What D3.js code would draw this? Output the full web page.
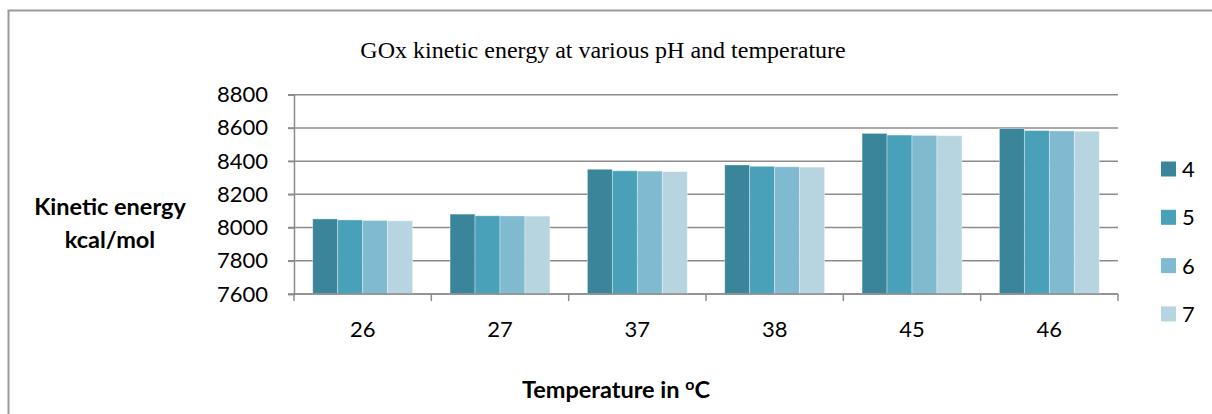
<!DOCTYPE html>
<html>
<head>
<meta charset="utf-8">
<script src="https://cdn.jsdelivr.net/npm/d3@7"></script>
<style>
  html, body { margin: 0; padding: 0; background: #fff; }
  svg { display: block; }
</style>
</head>
<body>
<svg id="chart" width="1212" height="414"></svg>
<script>
// Temperature groups (°C) and pH series
const temperatures = ["26", "27", "37", "38", "45", "46"];
const phSeries = ["4", "5", "6", "7"];

// Kinetic energy (kcal/mol) per pH series, one value per temperature
const ph4 = [8052, 8081, 8351, 8377, 8567, 8596];
const ph5 = [8046, 8071, 8342, 8369, 8557, 8584];
const ph6 = [8043, 8070, 8340, 8366, 8555, 8582];
const ph7 = [8041, 8069, 8337, 8364, 8553, 8580];
const seriesValues = [ph4, ph5, ph6, ph7];

const yTicks = [7600, 7800, 8000, 8200, 8400, 8600, 8800];
const seriesColors = ["#3a8599", "#48a1b9", "#7fbad0", "#b7d5e1"];

const svg = d3.select("#chart");
const gridColor = "#8c8c8c";
const labelFont = "Lato, 'Open Sans', sans-serif";

// Outer chart frame (left and top edges visible)
svg.append("path")
  .attr("d", "M8.5,414 L8.5,10.5 L1212,10.5")
  .attr("fill", "none")
  .attr("stroke", "#9a9a9a")
  .attr("stroke-width", 2);

const plot = { left: 294, right: 1118, top: 94.7, bottom: 294 };

const x0 = d3.scaleBand()
  .domain(temperatures)
  .range([plot.left, plot.right])
  .paddingInner(0)
  .paddingOuter(0);

// Gap between groups is ~150% of one bar width
const groupInner = d3.scaleBand()
  .domain(phSeries)
  .range([0, x0.bandwidth()])
  .paddingInner(0)
  .paddingOuter(0.75);

const y = d3.scaleLinear()
  .domain([7600, 8800])
  .range([plot.bottom, plot.top]);

// Horizontal gridlines
svg.append("g")
  .selectAll("line")
  .data(yTicks)
  .join("line")
  .attr("x1", plot.left - 6)
  .attr("x2", plot.right)
  .attr("y1", d => y(d))
  .attr("y2", d => y(d))
  .attr("stroke", gridColor)
  .attr("stroke-width", 1.5);

// Bars
const groups = svg.append("g")
  .selectAll("g")
  .data(temperatures)
  .join("g")
  .attr("transform", d => `translate(${x0(d)},0)`);

groups.selectAll("rect")
  .data((t, i) => phSeries.map((p, s) => ({ series: p, s, value: seriesValues[s][i] })))
  .join("rect")
  .attr("x", d => groupInner(d.series))
  .attr("width", groupInner.bandwidth())
  .attr("y", d => y(d.value))
  .attr("height", d => y(7600) - y(d.value))
  .attr("fill", d => seriesColors[d.s])
  .attr("stroke", "rgba(255,255,255,0.45)")
  .attr("stroke-width", 0.8);

// Y axis
const yAxis = d3.axisLeft(y)
  .tickValues(yTicks)
  .tickSize(6)
  .tickPadding(20)
  .tickFormat(d3.format("d"));

const yg = svg.append("g")
  .attr("transform", `translate(${plot.left},0)`)
  .call(yAxis);
yg.select(".domain").attr("stroke", gridColor).attr("stroke-width", 1.5);
yg.selectAll(".tick line").attr("stroke", gridColor).attr("stroke-width", 1.5);
yg.selectAll(".tick text")
  .attr("font-family", labelFont)
  .attr("font-size", 22)
  .attr("fill", "#000");

// X axis with tick marks at category boundaries
const xAxisG = svg.append("g")
  .attr("transform", `translate(0,${plot.bottom})`);
xAxisG.append("line")
  .attr("x1", plot.left).attr("x2", plot.right)
  .attr("stroke", gridColor).attr("stroke-width", 1.5);
const boundaries = temperatures.map(t => x0(t)).concat([x0(temperatures[temperatures.length - 1]) + x0.bandwidth()]);
xAxisG.selectAll("line.tick")
  .data(boundaries)
  .join("line")
  .attr("class", "tick")
  .attr("x1", d => d).attr("x2", d => d)
  .attr("y1", 0).attr("y2", 7)
  .attr("stroke", gridColor).attr("stroke-width", 1.5);
xAxisG.selectAll("text")
  .data(temperatures)
  .join("text")
  .attr("x", d => x0(d) + x0.bandwidth() / 2)
  .attr("y", 43)
  .attr("text-anchor", "middle")
  .attr("font-family", labelFont)
  .attr("font-size", 22)
  .attr("fill", "#000")
  .text(d => d);

// Chart title
svg.append("text")
  .attr("x", 603)
  .attr("y", 58)
  .attr("text-anchor", "middle")
  .attr("font-family", "'Liberation Serif', 'Times New Roman', serif")
  .attr("font-size", 24)
  .attr("fill", "#000")
  .text("GOx kinetic energy at various pH and temperature");

// Y axis title (two lines)
const yTitle = svg.append("text")
  .attr("text-anchor", "middle")
  .attr("font-family", labelFont)
  .attr("font-weight", "bold")
  .attr("font-size", 23.5)
  .attr("fill", "#000");
yTitle.append("tspan").attr("x", 110).attr("y", 215).text("Kinetic energy");
yTitle.append("tspan").attr("x", 110).attr("y", 248).text("kcal/mol");

// X axis title with superscript degree mark
const xTitle = svg.append("text")
  .attr("x", 616)
  .attr("y", 398)
  .attr("text-anchor", "middle")
  .attr("font-family", labelFont)
  .attr("font-weight", "bold")
  .attr("font-size", 23.5)
  .attr("fill", "#000");
xTitle.append("tspan").text("Temperature in ");
xTitle.append("tspan").attr("dy", -8).attr("font-size", 16).text("o");
xTitle.append("tspan").attr("dy", 8).text("C");

// Legend
const legend = svg.append("g")
  .selectAll("g")
  .data(phSeries)
  .join("g")
  .attr("transform", (d, i) => `translate(1161,${169 + i * 48.3})`);
legend.append("rect")
  .attr("x", 0).attr("y", -7.5)
  .attr("width", 15).attr("height", 15)
  .attr("fill", (d, i) => seriesColors[i]);
legend.append("text")
  .attr("x", 21)
  .attr("y", 8)
  .attr("font-family", labelFont)
  .attr("font-size", 22)
  .attr("fill", "#000")
  .text(d => d);
</script>
</body>
</html>
